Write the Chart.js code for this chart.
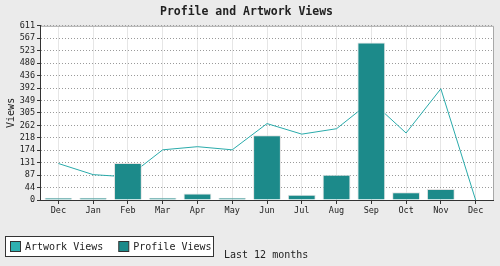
<!DOCTYPE html>
<html>
<head>
<meta charset="utf-8">
<script src="https://cdn.jsdelivr.net/npm/chart.js@4"></script>
<style>
html,body{margin:0;padding:0;background:#ebebeb;}
#wrap{width:500px;height:266px;position:relative;}
</style>
</head>
<body>
<div id="wrap"><canvas id="viewsChart"></canvas></div>
<script>
const months = ["Dec","Jan","Feb","Mar","Apr","May","Jun","Jul","Aug","Sep","Oct","Nov","Dec"];
const artworkViews = [128,89,81,176,187,176,268,231,250,347,235,390,0];
const profileViews = [8,8,130,8,23,8,227,18,89,552,27,39,0];
const yTickLabels = ["0","44","87","131","174","218","262","305","349","392","436","480","523","567","611"];
const yMax = 611;

const MONO = "'DejaVu Sans Mono', monospace";

// white plot area, frame lines, custom legend and footer text
const framePlugin = {
    id:"frame",
    beforeDraw(chart){
        const a = chart.chartArea, ctx = chart.ctx;
        ctx.save();
        ctx.fillStyle = "#ffffff";
        ctx.fillRect(a.left, a.top, a.right - a.left, a.bottom - a.top);
        ctx.restore();
    },
    afterDraw(chart){
        const a = chart.chartArea, ctx = chart.ctx;
        ctx.save();
        ctx.lineWidth = 1;
        ctx.strokeStyle = "#a8a8a8";
        ctx.beginPath();
        ctx.moveTo(a.left, a.top + 0.5);
        ctx.lineTo(a.right + 0.5, a.top + 0.5);
        ctx.lineTo(a.right + 0.5, a.bottom);
        ctx.stroke();
        ctx.strokeStyle = "#333";
        ctx.beginPath();
        ctx.moveTo(Math.round(a.left) - 0.5, a.top);
        ctx.lineTo(Math.round(a.left) - 0.5, a.bottom);
        ctx.stroke();

        // legend box
        ctx.fillStyle = "#ffffff";
        ctx.fillRect(5.5, 236.5, 208, 20);
        ctx.strokeRect(5.5, 236.5, 208, 20);
        ctx.font = "10px " + MONO;
        ctx.textBaseline = "middle";
        let x = 10;
        [0, 1].forEach(i => {
            const ds = chart.data.datasets[i];
            ctx.fillStyle = ds.legendColor;
            ctx.fillRect(x + 0.5, 241.5, 10, 10);
            ctx.strokeStyle = "#333";
            ctx.strokeRect(x + 0.5, 241.5, 10, 10);
            ctx.fillStyle = "#222";
            ctx.fillText(ds.label, x + 15, 247);
            x += 15 + ctx.measureText(ds.label).width + 15;
        });

        ctx.fillStyle = "#222";
        ctx.fillText("Last 12 months", 224, 255);
        ctx.restore();
    }
};

new Chart(document.getElementById("viewsChart"), {
    data:{
        labels:months,
        datasets:[
            {
                type:"line",
                label:"Artwork Views",
                data:artworkViews,
                borderColor:"#2aabab",
                legendColor:"#2fb0b0",
                borderWidth:1,
                pointRadius:0,
                tension:0,
                order:2
            },
            {
                type:"bar",
                label:"Profile Views",
                data:profileViews,
                backgroundColor:"#1c8a8a",
                legendColor:"#1c8a8a",
                borderColor:"#e2e2e2",
                borderWidth:1,
                barPercentage:1,
                categoryPercentage:0.8,
                order:1
            }
        ]
    },
    options:{
        responsive:true,
        maintainAspectRatio:false,
        animation:false,
        layout:{padding:{left:0,right:7,top:0,bottom:0}},
        plugins:{
            legend:{display:false},
            tooltip:{enabled:false},
            title:{
                display:true,
                text:"Profile and Artwork Views",
                color:"#222",
                font:{family:MONO,size:11.5,weight:"bold"},
                padding:{top:5,bottom:7}
            }
        },
        scales:{
            x:{
                offset:true,
                afterFit(s){ s.height = 66; },
                grid:{color:"#e6e6e6",offset:false,drawTicks:true,tickLength:4,tickColor:"#333"},
                border:{color:"#333",width:1},
                ticks:{color:"#222",font:{family:MONO,size:8.5},padding:2,autoSkip:false,maxRotation:0}
            },
            y:{
                min:0,
                max:yMax,
                afterFit(s){ s.width = 41; },
                afterBuildTicks(s){
                    s.ticks = yTickLabels.map((l, i) => ({value: i * yMax / (yTickLabels.length - 1)}));
                },
                title:{display:true,text:"Views",color:"#222",font:{family:MONO,size:10},padding:{top:5,bottom:2}},
                grid:{color:"#9a9a9a",tickColor:"#333",tickLength:4,drawTicks:true},
                border:{display:false,dash:[1,2]},
                ticks:{
                    color:"#222",
                    font:{family:MONO,size:8.5},
                    padding:2,
                    autoSkip:false,
                    callback:(v, i) => yTickLabels[i]
                }
            }
        }
    },
    plugins:[framePlugin]
});
</script>
</body>
</html>
